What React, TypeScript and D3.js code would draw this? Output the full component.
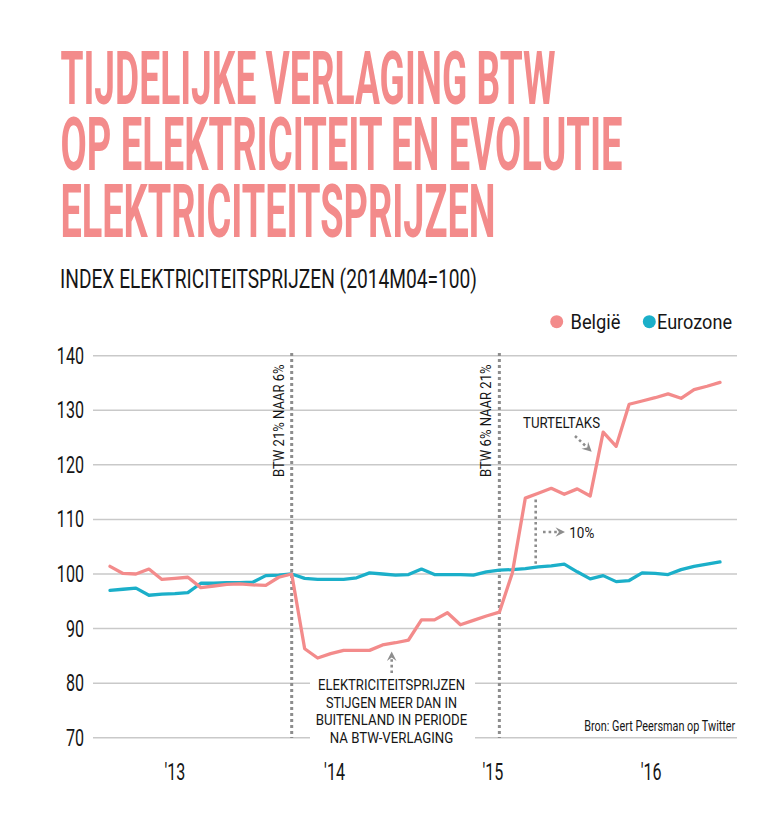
import React from 'react';
import * as d3 from 'd3';

// ---- DATA ----
const months = [
  '2013M02','2013M03','2013M04','2013M05','2013M06','2013M07','2013M08','2013M09','2013M10','2013M11','2013M12',
  '2014M01','2014M02','2014M03','2014M04','2014M05','2014M06','2014M07','2014M08','2014M09','2014M10','2014M11','2014M12',
  '2015M01','2015M02','2015M03','2015M04','2015M05','2015M06','2015M07','2015M08','2015M09','2015M10','2015M11','2015M12',
  '2016M01','2016M02','2016M03','2016M04','2016M05','2016M06','2016M07','2016M08','2016M09','2016M10','2016M11','2016M12',
  '2017M01'
];
const belgium = [
  101.4, 100.1, 100.0, 100.9, 99.0, 99.2, 99.4, 97.5, 97.8, 98.1, 98.2, 98.0, 97.9, 99.4, 100.0,
  86.3, 84.6, 85.4, 86.0, 86.0, 86.0, 87.0, 87.4, 87.9, 91.6, 91.6, 92.9, 90.7, 91.5, 92.3, 93.0,
  100.2, 113.9, 114.8, 115.7, 114.6, 115.6, 114.3, 126.0, 123.4, 131.1, 131.7, 132.3, 133.0, 132.2,
  133.8, 134.4, 135.1
];
const eurozone = [
  97.0, 97.2, 97.4, 96.1, 96.3, 96.4, 96.6, 98.3, 98.3, 98.4, 98.4, 98.5, 99.7, 99.8, 100.0,
  99.2, 99.0, 99.0, 99.0, 99.3, 100.2, 100.0, 99.8, 99.9, 100.9, 99.9, 99.9, 99.9, 99.8, 100.4, 100.7,
  100.8, 101.0, 101.3, 101.5, 101.8, 100.4, 99.1, 99.7, 98.6, 98.8, 100.2, 100.1, 99.9, 100.8,
  101.4, 101.8, 102.2
];
const yTicks = [70, 80, 90, 100, 110, 120, 130, 140];
const xTickLabels = ["'13", "'14", "'15", "'16"];
const xTickPos = [5.0, 17.3, 29.5, 41.7]; // month index positions of the year labels
const seriesNames = ['België', 'Eurozone'];
const titleLines = ['TIJDELIJKE VERLAGING BTW', 'OP ELEKTRICITEIT EN EVOLUTIE', 'ELEKTRICITEITSPRIJZEN'];
const subtitle = 'INDEX ELEKTRICITEITSPRIJZEN (2014M04=100)';
const vatEventIdx = [14, 30];
const vatEventLabels = ['BTW 21% NAAR 6%', 'BTW 6% NAAR 21%'];
const noteLines = ['ELEKTRICITEITSPRIJZEN', 'STIJGEN MEER DAN IN', 'BUITENLAND IN PERIODE', 'NA BTW-VERLAGING'];
const source = 'Bron: Gert Peersman op Twitter';
const gapIdx = 32.8; // position of the 10% gap marker
const gapFrom = 101.4;
const gapTo = 114.0;

// ---- STYLE ----
const PINK = '#f38b8b';
const TEAL = '#1bafc9';
const GRID = '#c9c9c9';
const DOT = '#8d8d8d';
const INK = '#161616';
const FONT = 'Roboto, "Noto Sans", sans-serif';

const W = 781, H = 820;

function Arrow({ x1, y1, x2, y2 }: { x1: number; y1: number; x2: number; y2: number }) {
  const ang = Math.atan2(y2 - y1, x2 - x1);
  const len = 9.5, half = 4.8, notch = 3.5;
  const bx = x2 - len * Math.cos(ang), by = y2 - len * Math.sin(ang);
  const px = -Math.sin(ang), py = Math.cos(ang);
  const nx = x2 - (len - notch) * Math.cos(ang), ny = y2 - (len - notch) * Math.sin(ang);
  const d = `M${x2},${y2} L${bx + px * half},${by + py * half} L${nx},${ny} L${bx - px * half},${by - py * half} Z`;
  return (
    <g>
      <line x1={x1} y1={y1} x2={nx} y2={ny} stroke={DOT} strokeWidth={2.6} strokeDasharray="2.6,3" />
      <path d={d} fill={DOT} />
    </g>
  );
}

export default function App() {
  const x = d3.scaleLinear().domain([0, months.length - 1]).range([110, 720]);
  const y = d3.scaleLinear().domain([70, 140]).range([737.7, 355.7]);
  const line = d3.line<number>().x((_, i) => x(i)).y((v) => y(v));

  const gridLeft = 93, gridRight = 737;
  const gapL = 310, gapR = 475; // gridline break for annotation text

  return (
    <svg width={W} height={H} style={{ position: 'absolute', left: 0, top: 0, background: '#fff' }} fontFamily={FONT}>
      <rect x={0} y={0} width={W} height={H} fill="#fff" />
      {/* Title */}
      {titleLines.map((t, i) => (
        <text key={t} x={60.5} y={103.5 + i * 66.7} fontSize={74.5} fontWeight={700} fill={PINK}
          textLength={[495, 562, 435][i]} lengthAdjust="spacingAndGlyphs">{t}</text>
      ))}
      <text x={60} y={288} fontSize={25} fill={INK} textLength={417} lengthAdjust="spacingAndGlyphs">{subtitle}</text>

      {/* Legend */}
      <circle cx={556.7} cy={321.7} r={6.5} fill={PINK} />
      <text x={570.5} y={328.5} fontSize={20.5} fill={INK} textLength={50} lengthAdjust="spacingAndGlyphs">{seriesNames[0]}</text>
      <circle cx={649.3} cy={321.7} r={6.5} fill={TEAL} />
      <text x={657} y={328.5} fontSize={20.5} fill={INK} textLength={75} lengthAdjust="spacingAndGlyphs">{seriesNames[1]}</text>

      {/* Grid */}
      {yTicks.map((v) => {
        const yy = y(v);
        const broken = v <= 80;
        return (
          <g key={v}>
            {broken ? (
              <>
                <line x1={gridLeft} x2={gapL} y1={yy} y2={yy} stroke={GRID} strokeWidth={1.5} />
                <line x1={gapR} x2={gridRight} y1={yy} y2={yy} stroke={GRID} strokeWidth={1.5} />
              </>
            ) : (
              <line x1={gridLeft} x2={gridRight} y1={yy} y2={yy} stroke={GRID} strokeWidth={1.5} />
            )}
            <text transform={`translate(84,${yy + 8}) scale(0.7,1)`} textAnchor="end" fontSize={23} fill={INK}>{v}</text>
          </g>
        );
      })}

      {/* X labels */}
      {xTickLabels.map((l, i) => (
        <text key={l} transform={`translate(${x(xTickPos[i])},779.5) scale(0.7,1)`} textAnchor="middle" fontSize={23} fill={INK}>{l}</text>
      ))}

      {/* VAT event lines */}
      {vatEventIdx.map((idx, i) => (
        <g key={idx}>
          <line x1={x(idx)} x2={x(idx)} y1={353} y2={738} stroke={DOT} strokeWidth={3} strokeDasharray="3,3" />
          <text transform={`translate(${x(idx) - 8},364.5) rotate(-90)`} textAnchor="end" fontSize={15.5} fill={INK}
            textLength={112.5} lengthAdjust="spacingAndGlyphs">{vatEventLabels[i]}</text>
        </g>
      ))}

      {/* Series */}
      <path d={line(eurozone) || ''} fill="none" stroke={TEAL} strokeWidth={3.3} strokeLinejoin="round" strokeLinecap="round" />
      <path d={line(belgium) || ''} fill="none" stroke={PINK} strokeWidth={3.3} strokeLinejoin="round" strokeLinecap="round" />

      {/* 10% gap annotation */}
      <line x1={x(gapIdx)} x2={x(gapIdx)} y1={y(gapTo) + 2} y2={y(gapFrom) - 2} stroke={DOT} strokeWidth={2.6} strokeDasharray="2.6,3" />
      <Arrow x1={543} y1={532} x2={565} y2={532} />
      <text x={569.3} y={537.5} fontSize={15} fill={INK} textLength={25} lengthAdjust="spacingAndGlyphs">10%</text>

      {/* Turteltaks */}
      <text x={523} y={427.5} fontSize={15} fill={INK} textLength={77} lengthAdjust="spacingAndGlyphs">TURTELTAKS</text>
      <Arrow x1={575} y1={436} x2={591.7} y2={451.7} />

      {/* Note */}
      <Arrow x1={391.7} y1={673} x2={391.7} y2={651.5} />
      {noteLines.map((t, i) => (
        <text key={t} x={391.5} y={690 + i * 17.5} textAnchor="middle" fontSize={14.2} fill={INK}
          textLength={[147, 131, 151.5, 123.5][i]} lengthAdjust="spacingAndGlyphs">{t}</text>
      ))}

      {/* Source */}
      <text x={584.3} y={730.7} fontSize={14.5} fill={INK} textLength={151} lengthAdjust="spacingAndGlyphs">{source}</text>
    </svg>
  );
}
